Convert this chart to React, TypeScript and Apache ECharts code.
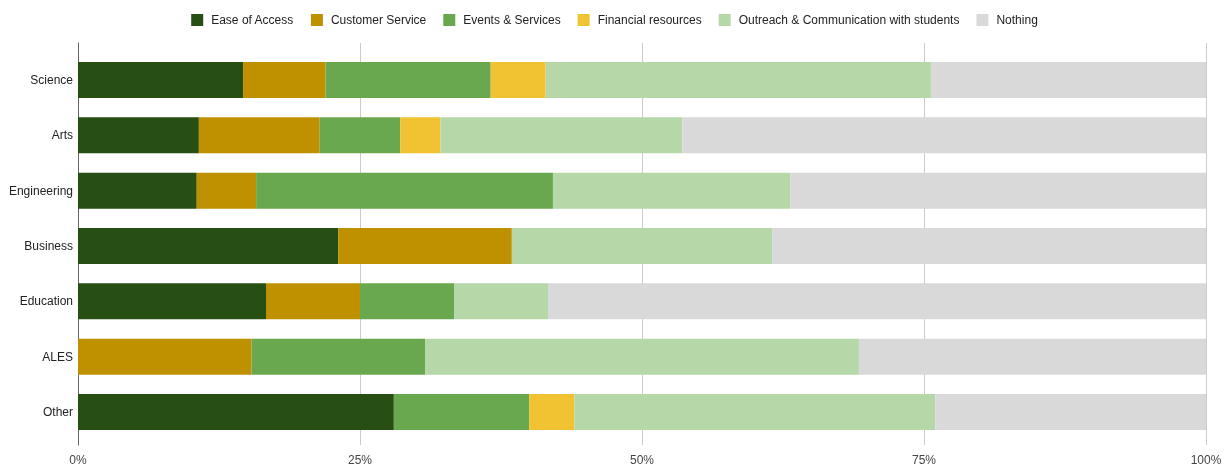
import React, { useEffect, useRef } from "react";
import * as echarts from "echarts";

const categories = ["Science", "Arts", "Engineering", "Business", "Education", "ALES", "Other"];
const seriesNames = [
  "Ease of Access",
  "Customer Service",
  "Events & Services",
  "Financial resources",
  "Outreach & Communication with students",
  "Nothing",
];
const colors = ["#274e13", "#bf9000", "#6aa84f", "#f1c232", "#b6d7a8", "#d9d9d9"];
// counts per category (order matches categories)
const easeOfAccess = [6, 3, 2, 3, 2, 0, 7];
const customerService = [3, 3, 1, 2, 1, 2, 0];
const eventsServices = [6, 2, 5, 0, 1, 2, 3];
const financialResources = [2, 1, 0, 0, 0, 0, 1];
const outreach = [14, 6, 4, 3, 1, 5, 8];
const nothing = [10, 13, 7, 5, 7, 4, 6];
const tickLabels = ["0%", "25%", "50%", "75%", "100%"];

const allSeries = [easeOfAccess, customerService, eventsServices, financialResources, outreach, nothing];

export default function App() {
  const ref = useRef<HTMLDivElement>(null);
  useEffect(() => {
    if (!ref.current) return;
    const chart = echarts.init(ref.current, null, { renderer: "svg" });
    const totals = categories.map((_, i) => allSeries.reduce((s, arr) => s + arr[i], 0));
    const font = "'Liberation Sans', Arial, sans-serif";
    chart.setOption({
      animation: false,
      textStyle: { fontFamily: font },
      legend: {
        top: 9,
        left: "center",
        itemWidth: 12,
        itemHeight: 12,
        itemGap: 17,
        icon: "rect",
        textStyle: { color: "#222", fontSize: 12, fontFamily: font, padding: [0, 0, 0, 3] },
        data: seriesNames,
      },
      grid: [
        { left: 78, right: 23, top: 43, bottom: 17, containLabel: false },
        { left: 78, right: 23, top: 52.33, bottom: 26.33, containLabel: false },
      ],
      xAxis: [
        {
          gridIndex: 0,
          type: "value",
          min: 0,
          max: 100,
          interval: 25,
          axisLine: { show: false },
          axisTick: { show: false },
          splitLine: { show: true, lineStyle: { color: "#cccccc", width: 1 } },
          axisLabel: {
            margin: 9,
            color: "#444",
            fontSize: 12,
            fontFamily: font,
            formatter: (v: number) => tickLabels[Math.round(v / 25)] ?? "",
          },
        },
        {
          gridIndex: 1,
          type: "value",
          min: 0,
          max: 100,
          interval: 25,
          show: false,
        },
      ],
      yAxis: [
        {
          gridIndex: 0,
          type: "value",
          min: 0,
          max: 1,
          axisLine: { show: true, lineStyle: { color: "#666", width: 1 } },
          axisTick: { show: false },
          axisLabel: { show: false },
          splitLine: { show: false },
        },
        {
          gridIndex: 1,
          type: "category",
          inverse: true,
          data: categories,
          axisLine: { show: false },
          axisTick: { show: false },
          splitLine: { show: false },
          axisLabel: { margin: 5, color: "#222", fontSize: 12, fontFamily: font },
        },
      ],
      series: seriesNames.map((name, k) => ({
        name,
        type: "bar",
        stack: "total",
        xAxisIndex: 1,
        yAxisIndex: 1,
        barWidth: 36,
        itemStyle: { color: colors[k] },
        data: allSeries[k].map((v, i) => (v / totals[i]) * 100),
      })),
    });
    return () => chart.dispose();
  }, []);
  return (
    <div
      ref={ref}
      style={{ position: "fixed", left: 0, top: 0, width: 1229, height: 466 }}
    />
  );
}
